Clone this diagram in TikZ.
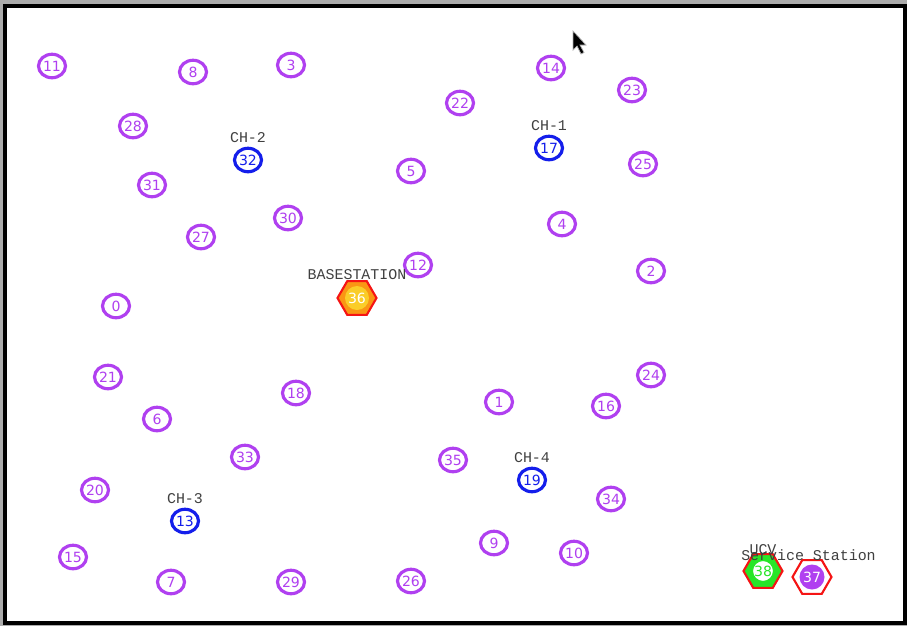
\documentclass[tikz,border=0pt]{standalone}
\usepackage{fontspec}
\usepackage{tikz}
\usetikzlibrary{positioning,shapes.geometric}
\newfontfamily\numfont{DejaVu Sans}
\newfontfamily\labfont{Liberation Mono}
\definecolor{sensorviolet}{RGB}{176,64,240}
\definecolor{headblue}{RGB}{20,30,235}
\definecolor{hexred}{RGB}{245,20,20}
\definecolor{bsorange}{RGB}{250,150,20}
\definecolor{bsyellow}{RGB}{250,205,40}
\definecolor{ucvgreen}{RGB}{40,230,40}

\begin{document}
\begin{tikzpicture}[x=0.02cm, y=-0.02cm, every node/.style={inner sep=0pt}]
\tikzset{sensor/.style={ellipse, draw=sensorviolet, line width=1.8pt, fill=white, text=sensorviolet,
    minimum width=0.54cm, minimum height=0.47cm, font=\numfont\fontsize{8}{8}\selectfont}}
\tikzset{head/.style={sensor, draw=headblue, text=headblue}}
\tikzset{hexnode/.style={regular polygon, regular polygon sides=6, minimum size=0.78cm,
    draw=hexred, line width=1.2pt, font=\numfont\fontsize{8}{8}\selectfont}}
\tikzset{lbl/.style={font=\labfont\fontsize{8.5}{8.5}\selectfont, text=black!75}}
\useasboundingbox (0,0) rectangle (907,626);
% frame
\fill[gray!65] (0,0) rectangle (907,626);
\draw[line width=0.09cm, black, fill=white] (5,6) rectangle (905,623);
% sensor nodes
\node[sensor] (n11) at (52,66) {11};
\node[sensor] (n8) at (193,72) {8};
\node[sensor] (n3) at (291,65) {3};
\node[sensor] (n14) at (551,68) {14};
\node[sensor] (n23) at (632,90) {23};
\node[sensor] (n22) at (460,103) {22};
\node[sensor] (n28) at (133,126) {28};
\node[sensor] (n25) at (643,164) {25};
\node[sensor] (n31) at (152,185) {31};
\node[sensor] (n5) at (411,171) {5};
\node[sensor] (n30) at (288,218) {30};
\node[sensor] (n4) at (562,224) {4};
\node[sensor] (n27) at (201,237) {27};
\node[sensor] (n12) at (418,265) {12};
\node[sensor] (n2) at (651,271) {2};
\node[sensor] (n0) at (116,306) {0};
\node[sensor] (n21) at (108,377) {21};
\node[sensor] (n24) at (651,375) {24};
\node[sensor] (n18) at (296,393) {18};
\node[sensor] (n1) at (499,402) {1};
\node[sensor] (n16) at (606,406) {16};
\node[sensor] (n6) at (157,419) {6};
\node[sensor] (n33) at (245,457) {33};
\node[sensor] (n35) at (453,460) {35};
\node[sensor] (n20) at (95,490) {20};
\node[sensor] (n34) at (611,499) {34};
\node[sensor] (n9) at (494,543) {9};
\node[sensor] (n10) at (574,553) {10};
\node[sensor] (n15) at (73,557) {15};
\node[sensor] (n7) at (171,582) {7};
\node[sensor] (n29) at (291,582) {29};
\node[sensor] (n26) at (411,581) {26};
% cluster heads
\node[head] (n32) at (248,160) {32};
\node[lbl, above=0.08cm of n32] {CH-2};
\node[head] (n17) at (549,148) {17};
\node[lbl, above=0.08cm of n17] {CH-1};
\node[head] (n13) at (185,521) {13};
\node[lbl, above=0.08cm of n13] {CH-3};
\node[head] (n19) at (532,480) {19};
\node[lbl, above=0.08cm of n19] {CH-4};
% base station, ucv, service station
\node[hexnode, fill=bsorange, text=white,
  path picture={\fill[bsyellow] (path picture bounding box.center) circle (0.24cm);}] (bs) at (357,298) {36};
\node[lbl, above=0pt of bs] {BASESTATION};
\node[hexnode, fill=ucvgreen, text=ucvgreen,
  path picture={\filldraw[fill=white, draw=ucvgreen, line width=1.2pt] (path picture bounding box.center) circle (0.22cm);}] (ucv) at (763,571) {38};
\node[lbl, above=-1pt of ucv] {UCV};
\node[hexnode, fill=white, text=white,
  path picture={\fill[sensorviolet] (path picture bounding box.center) circle (0.25cm);}] (ss) at (812,577) {37};
\node[lbl, above=-1pt of ss, xshift=-2pt] {Service Station};
% mouse pointer
\filldraw[fill=black, draw=gray!60, line width=0.4pt]
  (573,31) -- (573,50) -- (577,46) -- (581,54) -- (584,52.5) -- (580,45) -- (586,45) -- cycle;
\end{tikzpicture}
\end{document}
